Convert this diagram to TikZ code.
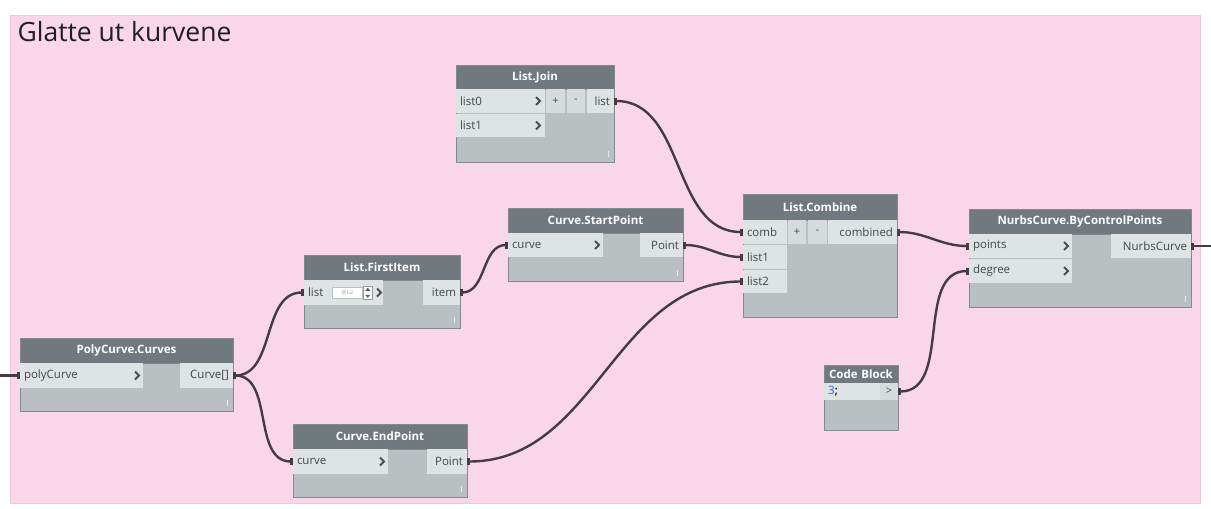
\documentclass[tikz,border=0pt]{standalone}
\usepackage{fontspec}
\setmainfont{Open Sans}
\usetikzlibrary{arrows.meta}

\definecolor{canvas}{RGB}{249,215,232}
\definecolor{canvasedge}{RGB}{238,200,218}
\definecolor{hdr}{RGB}{111,121,126}
\definecolor{bodyc}{RGB}{184,192,193}
\definecolor{cellc}{RGB}{222,227,227}
\definecolor{btnc}{RGB}{214,220,221}
\definecolor{edge}{RGB}{130,138,142}
\definecolor{wirec}{RGB}{72,58,66}
\definecolor{txt}{RGB}{70,70,70}
\definecolor{chevc}{RGB}{78,78,80}
\definecolor{codeblue}{RGB}{50,100,200}

% one rectangular cell: name, x1, y1, x2, y2, style, text
\newcommand\cell[7]{%
  \pgfmathsetlengthmacro\cellw{(#4)-(#2)-8}%
  \pgfmathsetlengthmacro\cellh{(#5)-(#3)}%
  \node[#6, anchor=north west, outer sep=0pt, inner xsep=4pt, inner ysep=0pt,
        text width=\cellw, minimum height=\cellh] (#1) at (#2,#3) {#7};}
% input chevron drawn a given distance left of a cell's right edge
\newcommand\chev[2]{\draw[chevline] ([xshift=-#2pt]#1.east) +(-2,-4) -- +(2,0) -- +(-2,4);}
% resize grip in a node's lower right corner
\newcommand\grip[1]{\draw[gripline] ([shift={(-6,-5)}]#1.south east) -- ++(0,-6);}

\begin{document}
\begin{tikzpicture}[x=1pt,y=-1pt,
  nodebody/.style={fill=bodyc, draw=edge, line width=0.8pt},
  header/.style={fill=hdr, draw=edge, line width=0.8pt, text=white,
                 font=\fontsize{11.5}{13}\selectfont\bfseries, align=center},
  incell/.style={fill=cellc, text=txt, font=\fontsize{11.5}{13}\selectfont, align=left},
  outcell/.style={fill=cellc, text=txt, font=\fontsize{11.5}{13}\selectfont, align=right},
  button/.style={fill=btnc, text=txt, font=\fontsize{11}{13}\selectfont, align=center},
  chevline/.style={draw=chevc, line width=1.8pt},
  gripline/.style={draw=white!70!bodyc, line width=0.8pt},
  porttab/.tip={Rectangle[length=3pt,width=7pt]},
  wire/.style={draw=wirec, line width=2.4pt, porttab-porttab},
]
\useasboundingbox (0,0) rectangle (1211,509);
\fill[white] (0,0) rectangle (1211,509);
\path[fill=canvas, draw=canvasedge, line width=0.8pt] (10,15) rectangle (1200,503);

\node[anchor=base west, text=black!88, font=\fontsize{26.5}{30}\selectfont] (title) at (14,41) {Glatte ut kurvene};

% PolyCurve.Curves
\cell{pc}{20}{338}{233}{411}{nodebody}{}
\cell{pch}{20}{338}{233}{363}{header}{PolyCurve.Curves}
\cell{pci}{20}{363}{143}{388}{incell}{polyCurve}
\cell{pco}{180}{363}{233}{388}{outcell}{Curve[]}
\chev{pci}{6}
\grip{pc}

% List.FirstItem
\cell{fi}{304}{255}{460}{328}{nodebody}{}
\cell{fih}{304}{255}{460}{280}{header}{List.FirstItem}
\cell{fii}{304}{280}{383}{305}{incell}{list}
\cell{fio}{423}{280}{460}{305}{outcell}{item}
\node[fill=white, draw=black!25, line width=0.5pt, anchor=north west, inner sep=0pt,
      minimum width=30pt, minimum height=11pt, text=black!35,
      font=\fontsize{6}{7}\selectfont] (fival) at (332,287) {@L2};
\node[fill=white, draw=black!40, line width=0.5pt, anchor=north west, inner sep=0pt,
      minimum width=9pt, minimum height=13pt] (fispin) at (363,286) {};
\fill[black!65] ([shift={(-2.5,-2)}]fispin.center) -- ++(5,0) -- ++(-2.5,-3) -- cycle;
\fill[black!65] ([shift={(-2.5,2)}]fispin.center) -- ++(5,0) -- ++(-2.5,3) -- cycle;
\chev{fii}{4}
\grip{fi}

% Curve.StartPoint
\cell{sp}{508}{208}{683}{281}{nodebody}{}
\cell{sph}{508}{208}{683}{233}{header}{Curve.StartPoint}
\cell{spi}{508}{233}{603}{257}{incell}{curve}
\cell{spo}{640}{233}{683}{257}{outcell}{Point}
\chev{spi}{6}
\grip{sp}

% Curve.EndPoint
\cell{ep}{293}{424}{467}{497}{nodebody}{}
\cell{eph}{293}{424}{467}{449}{header}{Curve.EndPoint}
\cell{epi}{293}{449}{388}{474}{incell}{curve}
\cell{epo}{427}{449}{467}{474}{outcell}{Point}
\chev{epi}{6}
\grip{ep}

% List.Join
\cell{lj}{456}{65}{614}{162}{nodebody}{}
\cell{ljh}{456}{65}{614}{89}{header}{List.Join}
\cell{lji}{456}{89}{545}{113}{incell}{list0}
\cell{ljj}{456}{114}{545}{137}{incell}{list1}
\cell{ljp}{546}{89}{565}{113}{button}{+}
\cell{ljm}{567}{89}{585}{113}{button}{-}
\cell{ljo}{587}{89}{614}{113}{outcell}{list}
\chev{lji}{7}
\chev{ljj}{7}
\grip{lj}

% List.Combine
\cell{lc}{743}{194}{897}{317}{nodebody}{}
\cell{lch}{743}{194}{897}{220}{header}{List.Combine}
\cell{lca}{743}{220}{787}{244}{incell}{comb}
\cell{lcb}{743}{245}{787}{269}{incell}{list1}
\cell{lcc}{743}{270}{787}{293}{incell}{list2}
\cell{lcp}{788}{220}{806}{244}{button}{+}
\cell{lcm}{808}{220}{827}{244}{button}{-}
\cell{lco}{828}{220}{897}{244}{outcell}{combined}

% Code Block
\cell{cb}{824}{365}{898}{430}{nodebody}{}
\cell{cbh}{824}{365}{898}{383}{header}{Code Block}
\cell{cbi}{824}{383}{880}{400}{incell}{\textcolor{codeblue}{3}\textcolor{black!80}{\textbf{;}}}
\cell{cbo}{880}{383}{898}{400}{button}{>}

% NurbsCurve.ByControlPoints
\cell{nc}{969}{209}{1191}{307}{nodebody}{}
\cell{nch}{969}{209}{1191}{234}{header}{NurbsCurve.ByControlPoints}
\cell{nca}{969}{234}{1072}{258}{incell}{points}
\cell{ncb}{969}{259}{1072}{283}{incell}{degree}
\cell{nco}{1111}{234}{1191}{258}{outcell}{NurbsCurve}
\chev{nca}{6}
\chev{ncb}{6}
\grip{nc}

% free wire ends at the canvas edges
\coordinate (leftend) at (0,375.5);
\coordinate (rightend) at (1211,246);

% wires
\draw[draw=wirec, line width=2.4pt, -porttab] (leftend) -- (pci.west);
\draw[wire] (pco.east) to[out=0,in=180] (fii.west);
\draw[wire] (pco.east) to[out=0,in=180] (epi.west);
\draw[wire] (fio.east) to[out=0,in=180] (spi.west);
\draw[wire] (spo.east) to[out=0,in=180] (lcb.west);
\draw[wire] (epo.east) to[out=0,in=180] (lcc.west);
\draw[wire] (ljo.east) to[out=0,in=180] (lca.west);
\draw[wire] (lco.east) to[out=0,in=180] (nca.west);
\draw[wire] (cbo.east) to[out=0,in=180] (ncb.west);
\draw[draw=wirec, line width=2.4pt, porttab-] (nco.east) -- (rightend);
\end{tikzpicture}
\end{document}
